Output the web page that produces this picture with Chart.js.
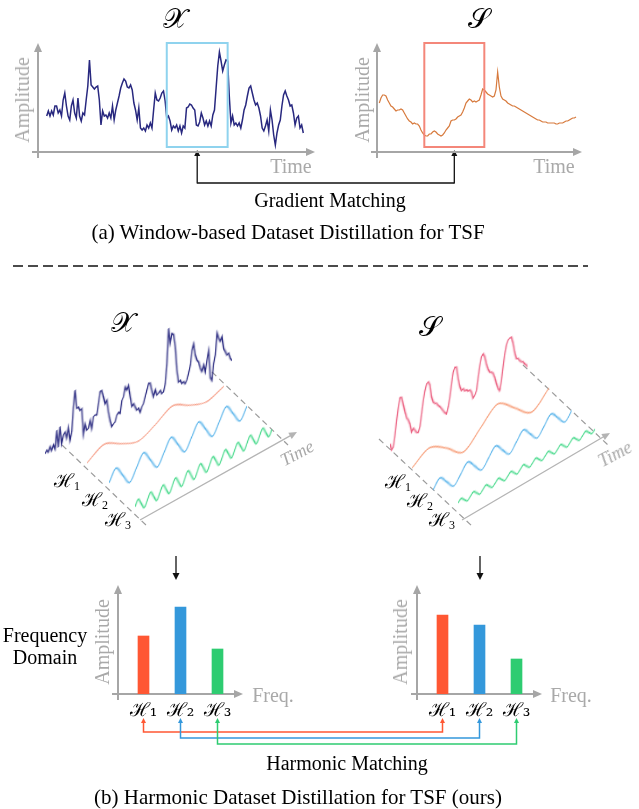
<!DOCTYPE html>
<html><head><meta charset="utf-8">
<script src="https://cdn.jsdelivr.net/npm/chart.js@4.4.1/dist/chart.umd.min.js"></script>
<style>
html,body{margin:0;padding:0;background:#fff;}
#page{position:relative;width:639px;height:809px;overflow:hidden;font-family:"Liberation Serif","Times New Roman",serif;color:#000;}
.t{position:absolute;white-space:nowrap;transform:translate(-50%,-50%);line-height:1;}
.g{color:#a9a9a9;}
.v{transform:translate(-50%,-50%) rotate(-90deg);}
.sc{font-family:"DejaVu Serif","DejaVu Sans","Noto Sans",serif;font-size:28px;}
.h{font-family:"DejaVu Serif",serif;font-size:19px;}
.h sub{font-size:12px;vertical-align:-3px;font-family:"Liberation Serif",serif;}
canvas{position:absolute;}
</style></head><body><div id="page">
<canvas id="overlay" width="639" height="809" style="left:0;top:0"></canvas>
<canvas id="topX"></canvas><canvas id="topS"></canvas>
<canvas id="w3dX"></canvas><canvas id="wxH1"></canvas><canvas id="wxH2"></canvas><canvas id="wxH3"></canvas>
<canvas id="w3dS"></canvas><canvas id="wsH1"></canvas><canvas id="wsH2"></canvas><canvas id="wsH3"></canvas>
<canvas id="barX"></canvas><canvas id="barS"></canvas>

<div class="t sc" style="left:175px;top:19px">𝒳</div>
<div class="t sc" style="left:479px;top:19px">𝒮</div>
<div class="t g v" style="left:22px;top:100px;font-size:20px">Amplitude</div>
<div class="t g" style="left:291px;top:166px;font-size:20px">Time</div>
<div class="t g v" style="left:362px;top:100px;font-size:20px">Amplitude</div>
<div class="t g" style="left:554px;top:166px;font-size:20px">Time</div>
<div class="t" style="left:330px;top:200px;font-size:20px">Gradient Matching</div>
<div class="t" style="left:288px;top:232px;font-size:21px">(a) Window-based Dataset Distillation for TSF</div>

<div class="t sc" style="left:123px;top:323px">𝒳</div>
<div class="t sc" style="left:430px;top:327px">𝒮</div>
<div class="t h" style="left:67px;top:481px">ℋ<sub>1</sub></div>
<div class="t h" style="left:95px;top:500px">ℋ<sub>2</sub></div>
<div class="t h" style="left:118px;top:520px">ℋ<sub>3</sub></div>
<div class="t h" style="left:398px;top:482px">ℋ<sub>1</sub></div>
<div class="t h" style="left:420px;top:501px">ℋ<sub>2</sub></div>
<div class="t h" style="left:442px;top:520px">ℋ<sub>3</sub></div>
<div class="t g" style="left:297px;top:453px;font-size:18px;font-style:italic;transform:translate(-50%,-50%) rotate(-28deg)">Time</div>
<div class="t g" style="left:615px;top:454px;font-size:18px;font-style:italic;transform:translate(-50%,-50%) rotate(-28deg)">Time</div>

<div class="t" style="left:45px;top:635px;font-size:20px">Frequency</div>
<div class="t" style="left:45px;top:657px;font-size:20px">Domain</div>
<div class="t g v" style="left:102px;top:642px;font-size:20px">Amplitude</div>
<div class="t g" style="left:273px;top:695px;font-size:20px">Freq.</div>
<div class="t g v" style="left:400px;top:642px;font-size:20px">Amplitude</div>
<div class="t g" style="left:571px;top:695px;font-size:20px">Freq.</div>
<div class="t" style="left:347px;top:763px;font-size:20px">Harmonic Matching</div>
<div class="t" style="left:298px;top:797px;font-size:21px">(b) Harmonic Dataset Distillation for TSF (ours)</div>
</div>
<script>
// ---------- data ----------
const topXSeries = [36,41,36,41,37,46,46,39,42,36,52,59,46,36,32,46,52,39,34,54,36,31,39,37,52,66,92,67,65,63,65,66,52,27,41,36,37,34,39,34,46,32,42,49,56,64,69,73,71,65,64,67,62,49,42,32,44,24,22,24,21,27,24,29,24,42,59,52,51,54,59,61,51,34,36,31,22,26,24,27,21,26,19,26,24,44,45,48,47,44,42,27,26,30,39,34,27,31,26,31,26,37,42,64,86,100,91,81,87,92,91,56,29,36,27,29,26,29,24,32,42,47,56,64,66,59,52,47,49,44,36,24,21,26,32,21,42,32,17,7,19,27,32,46,57,61,56,52,46,47,39,27,34,36,24,27,19];
const topSSeries = [49,54,57,57,56,52,49,46,45,43,41,42,42,43,42,39,36,33,31,30,28,29,28,28,26,22,19,17,16,16,18,18,20,21,20,18,17,16,17,19,22,24,26,31,32,32,33,35,36,37,40,44,49,51,53,52,50,51,50,51,52,57,63,62,60,58,57,56,55,56,62,80,65,56,53,52,51,49,48,47,46,46,45,44,43,42,41,40,39,38,37,36,35,34,33,32,32,31,30,30,30,29,29,29,29,29,28,28,29,29,29,30,31,31,32,33,34,34,35];
const topXWindow = [73, 110];
const topSWindow = [27, 63];
const x3dSeries = [3,6,3,8,3,8,3,21,3,23,5,13,15,8,18,4,12,36,52,33,33,29,30,3,13,6,7,14,5,16,17,16,27,38,38,31,23,26,13,4,-3,-1,0,6,8,6,18,21,30,26,30,18,7,9,5,1,2,-3,2,4,10,16,22,21,13,6,12,6,7,9,5,6,13,33,67,51,60,58,45,21,8,9,5,6,3,6,12,19,33,39,27,21,18,11,7,13,5,16,25,-3,-7,9,17,38,32,28,32,19,15,11,12,6,3];
const s3dSeries = [8,1,3,14,28,40,49,48,40,32,25,22,17,8,11,8,5,4,9,21,33,42,48,49,45,32,26,24,23,20,18,15,12,9,7,13,22,34,45,49,48,36,27,22,23,20,20,18,18,15,8,10,14,26,37,45,47,43,35,29,25,24,22,17,10,4,1,10,23,35,43,47,48,48,41,31,24,23,20,18,17,14,12,9];
const xH1 = [0,9,0,-7,0,9,0,-6,0];
const xH2 = [0,11,0,-11,0,11,0,-11,0,11,0,-11,0,11,0,-11,0,11,0,-11,0];
const xH3 = [0,6,0,-6,0,6,0,-6,0,6,0,-6,0,6,0,-6,0,6,0,-6,0,6,0,-6,0,6,0,-6,0,6,0,-6,0,6,0,-6,0,6,0,-6,0,6,0,-6,0];
const sH1 = [0,10,0,-14,0,14,0,-14,0];
const sH2 = [0,8,0,-8,0,8,0,-8,0,8,0,-8,0,8,0,-8,0,8,0,-8,0];
const sH3 = [0,3,0,-3,0,3,0,-3,0,3,0,-3,0,3,0,-3,0,3,0,-3,0,3,0,-3,0,3,0,-3,0,3,0,-3,0,3,0,-3,0,3,0,-3,0,3,0,-3,0];
const freqLabels = ['ℋ₁','ℋ₂','ℋ₃'];
const freqAmpX = [58, 87, 45];
const freqAmpS = [79, 69, 35];
const barColors = ['#ff5733', '#3498db', '#2ecc71'];

// ---------- helpers ----------
Chart.defaults.font.family = '"Liberation Serif", serif';
function arrowHead(ctx, x1, y1, x2, y2, hl, hw, color) {
  const a = Math.atan2(y2 - y1, x2 - x1);
  ctx.save(); ctx.fillStyle = color; ctx.beginPath();
  ctx.moveTo(x2, y2);
  ctx.lineTo(x2 - hl * Math.cos(a) + hw * Math.sin(a), y2 - hl * Math.sin(a) - hw * Math.cos(a));
  ctx.lineTo(x2 - hl * Math.cos(a) - hw * Math.sin(a), y2 - hl * Math.sin(a) + hw * Math.cos(a));
  ctx.closePath(); ctx.fill(); ctx.restore();
}
function arrowLine(ctx, x1, y1, x2, y2, color, lw, hl, hw) {
  const a = Math.atan2(y2 - y1, x2 - x1);
  ctx.save(); ctx.strokeStyle = color; ctx.lineWidth = lw; ctx.setLineDash([]);
  ctx.beginPath(); ctx.moveTo(x1, y1); ctx.lineTo(x2 - (hl - 1) * Math.cos(a), y2 - (hl - 1) * Math.sin(a)); ctx.stroke();
  ctx.restore();
  arrowHead(ctx, x1, y1, x2, y2, hl, hw, color);
}
const axesArrows = {
  id: 'axesArrows',
  beforeDatasetsDraw(chart, args, o) {
    const {left, right, top, bottom} = chart.chartArea; const ctx = chart.ctx;
    const yx = left - o.yOffset;
    arrowLine(ctx, yx, bottom + o.yBelow, yx, top, '#a6a6a6', 2, 9, 4);
    arrowLine(ctx, left - o.xBefore, bottom, right + o.xAfter, bottom, '#a6a6a6', 2, 9, 4);
  }
};
const windowBox = {
  id: 'windowBox',
  afterDatasetsDraw(chart, args, o) {
    if (!o.range) return;
    const xs = chart.scales.x, ys = chart.scales.y, ctx = chart.ctx;
    const x0 = xs.getPixelForValue(o.range[0]), x1 = xs.getPixelForValue(o.range[1]);
    const y0 = ys.getPixelForValue(ys.max), y1 = ys.getPixelForValue(o.low);
    ctx.save(); ctx.strokeStyle = o.color; ctx.lineWidth = 2;
    ctx.strokeRect(x0, y0, x1 - x0, y1 - y0); ctx.restore();
  }
};
function place(c, l, t, w, h) { c.width = w; c.height = h; c.style.left = l + 'px'; c.style.top = t + 'px'; }

function topChart(id, series, win, g) {
  const c = document.getElementById(id);
  place(c, g.cl, g.ct, g.cw, g.ch);
  const N = series.length, p = (g.last - g.first) / (N - 1);
  return new Chart(c, {
    type: 'line',
    data: { datasets: [{ data: series.map((v, i) => ({x: i, y: v})), borderColor: g.color, borderWidth: g.lw, pointRadius: 0, tension: 0, clip: false }] },
    options: {
      responsive: false, animation: false, events: [],
      layout: { padding: { left: g.l - g.cl, right: g.cl + g.cw - g.r, top: g.t - g.ct, bottom: g.ct + g.ch - g.b } },
      plugins: { legend: {display: false}, tooltip: {enabled: false},
        axesArrows: { yOffset: 0, yBelow: 6, xBefore: 6, xAfter: 0 },
        windowBox: { range: win, color: g.win, low: 5 } },
      scales: {
        x: { type: 'linear', display: false, min: -(g.first - g.l) / p, max: N - 1 + (g.r - g.last) / p },
        y: { display: false, min: 0, max: g.b - g.t }
      }
    },
    plugins: [axesArrows, windowBox]
  });
}
function shearedLine(id, series, g) {
  const c = document.getElementById(id);
  const h = g.yMax - g.yMin;
  place(c, g.x0, g.y0 - g.yMax, Math.round(g.len), h);
  c.style.transformOrigin = '0px ' + g.yMax + 'px';
  c.style.transform = 'matrix(1,' + g.slope + ',0,1,0,0)';
  return new Chart(c, {
    type: 'line',
    data: { labels: series.map((_, i) => i), datasets: [{ data: series, borderColor: g.color, borderWidth: g.lw, pointRadius: 0,
      tension: 0, cubicInterpolationMode: g.smooth ? 'monotone' : 'default', clip: false }] },
    options: { responsive: false, animation: false, events: [], layout: {padding: 0},
      plugins: { legend: {display: false}, tooltip: {enabled: false} },
      scales: { x: {display: false, offset: false}, y: {display: false, min: g.yMin, max: g.yMax} } }
  });
}
function barChart(id, values, g) {
  const c = document.getElementById(id);
  place(c, g.cl, g.ct, g.cw, g.ch);
  return new Chart(c, {
    type: 'bar',
    data: { labels: freqLabels, datasets: [{ data: values, backgroundColor: barColors, barThickness: 11, borderWidth: 0 }] },
    options: {
      responsive: false, animation: false, events: [],
      layout: { padding: { left: g.l - g.cl, right: g.cl + g.cw - g.r, top: g.t - g.ct, bottom: 6 } },
      plugins: { legend: {display: false}, tooltip: {enabled: false},
        axesArrows: { yOffset: 7, yBelow: 6, xBefore: 13, xAfter: 7 } },
      scales: {
        x: { grid: {display: false, drawTicks: false}, border: {display: false},
             ticks: { color: '#000', padding: 6, font: { family: '"DejaVu Serif", serif', size: 19 } },
             afterFit(s) { s.height = g.ct + g.ch - 6 - g.b; } },
        y: { display: false, min: 0, max: g.b - g.t }
      }
    },
    plugins: [axesArrows]
  });
}

// ---------- charts ----------
const cTopX = topChart('topX', topXSeries, topXWindow,
  { cl: 0, ct: 30, cw: 330, ch: 140, l: 38, r: 315, t: 43, b: 152, first: 46.7, last: 303.3, color: '#28287f', lw: 1.5, win: '#8fd3ee' });
const cTopS = topChart('topS', topSSeries, topSWindow,
  { cl: 330, ct: 30, cw: 280, ch: 140, l: 377, r: 582, t: 43, b: 152, first: 379.3, last: 576, color: '#d77a3d', lw: 1.2, win: '#f4877a' });

shearedLine('w3dX', x3dSeries, { x0: 45, y0: 456.7, len: 186.7, slope: -0.5, yMin: -10, yMax: 70, color: '#28287f', lw: 1.3 });
shearedLine('wxH1', xH1, { x0: 87, y0: 463, len: 137, slope: -0.562, yMin: -12, yMax: 12, color: '#f6a28c', lw: 1.3, smooth: true });
shearedLine('wxH2', xH2, { x0: 109, y0: 483, len: 138, slope: -0.558, yMin: -13, yMax: 13, color: '#55b2ea', lw: 1.3, smooth: true });
shearedLine('wxH3', xH3, { x0: 135, y0: 507, len: 137, slope: -0.57, yMin: -8, yMax: 8, color: '#45d98a', lw: 1.3, smooth: true });
shearedLine('w3dS', s3dSeries, { x0: 390, y0: 451.7, len: 138.3, slope: -0.55, yMin: -5, yMax: 55, color: '#ea5a7c', lw: 1.3 });
shearedLine('wsH1', sH1, { x0: 412, y0: 468, len: 137, slope: -0.584, yMin: -16, yMax: 16, color: '#f7a07c', lw: 1.3, smooth: true });
shearedLine('wsH2', sH2, { x0: 433, y0: 490, len: 139, slope: -0.576, yMin: -10, yMax: 10, color: '#55b2ea', lw: 1.3, smooth: true });
shearedLine('wsH3', sH3, { x0: 458, y0: 503, len: 137, slope: -0.54, yMin: -6, yMax: 6, color: '#45d98a', lw: 1.3, smooth: true });

const cBarX = barChart('barX', freqAmpX, { cl: 100, ct: 570, cw: 160, ch: 160, l: 125, r: 236, t: 585, b: 694 });
const cBarS = barChart('barS', freqAmpS, { cl: 400, ct: 570, cw: 160, ch: 160, l: 424, r: 535, t: 585, b: 694 });

// ---------- overlay (connectors, guides) ----------
const ov = document.getElementById('overlay').getContext('2d');
function winCenter(chart, win, left) { return left + chart.scales.x.getPixelForValue((win[0] + win[1]) / 2); }
const gx1 = winCenter(cTopX, topXWindow, 0), gx2 = winCenter(cTopS, topSWindow, 330);
ov.strokeStyle = '#111'; ov.lineWidth = 1.3;
ov.beginPath(); ov.moveTo(gx1, 183); ov.lineTo(gx2, 183); ov.stroke();
arrowLine(ov, gx1, 183.6, gx1, 150, '#111', 1.3, 6, 3);
arrowLine(ov, gx2, 183.6, gx2, 150, '#111', 1.3, 6, 3);
// separator
ov.save(); ov.strokeStyle = '#111'; ov.lineWidth = 1.5; ov.setLineDash([10, 5]);
ov.beginPath(); ov.moveTo(13, 266); ov.lineTo(588, 266); ov.stroke(); ov.restore();
// 3D guides
function dashed(x1, y1, x2, y2) { ov.save(); ov.strokeStyle = '#9c9c9c'; ov.lineWidth = 1.2; ov.setLineDash([6, 4]);
  ov.beginPath(); ov.moveTo(x1, y1); ov.lineTo(x2, y2); ov.stroke(); ov.restore(); }
dashed(62, 445, 148, 527); dashed(212, 372, 288, 445);
dashed(379, 439, 472, 526); dashed(523, 365, 608, 445);
arrowLine(ov, 140, 520, 297, 432, '#b4b4b4', 1.3, 8, 3.5);
arrowLine(ov, 462, 520, 610, 433, '#b4b4b4', 1.3, 8, 3.5);
// down arrows
arrowLine(ov, 176, 556, 176, 580, '#111', 1.3, 7, 3.5);
arrowLine(ov, 480, 556, 480, 580, '#111', 1.3, 7, 3.5);
// harmonic matching connectors
const mX = cBarX.getDatasetMeta(0).data, mS = cBarS.getDatasetMeta(0).data;
for (let i = 0; i < 3; i++) {
  const xa = 100 + mX[i].x, xb = 400 + mS[i].x, y = 732 + 6 * i;
  ov.save(); ov.strokeStyle = barColors[i]; ov.lineWidth = 1.5;
  ov.beginPath(); ov.moveTo(xa, 723); ov.lineTo(xa, y); ov.lineTo(xb, y); ov.lineTo(xb, 723); ov.stroke(); ov.restore();
  arrowHead(ov, xa, 730, xa, 718, 5, 2.5, barColors[i]);
  arrowHead(ov, xb, 730, xb, 718, 5, 2.5, barColors[i]);
}
</script>
</body></html>
